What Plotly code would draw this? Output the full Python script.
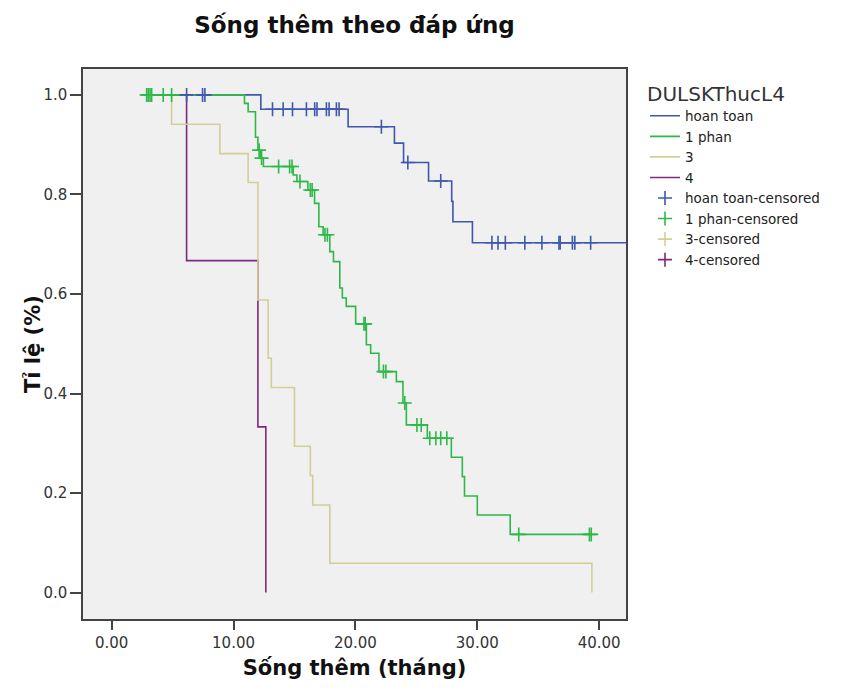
import numpy as np
import plotly.graph_objects as go

# ---- data (Kaplan-Meier step curves) ----
groups = ["hoan toan", "1 phan", "3", "4"]
colors = ["#3E58AC", "#2EB848", "#D3CE97", "#7C287D"]

blue_t = [2.5, 12.24, 19.4, 23.2, 23.95, 26.0, 27.9, 28.0, 29.6, 42.2]
blue_s = [1.0, 0.971, 0.936, 0.903, 0.864, 0.827, 0.786, 0.745, 0.703, 0.703]
blue_cens = [6.15, 7.46, 7.65, 13.2, 14.07, 14.84, 15.98, 16.66, 16.85, 17.62,
             17.84, 18.44, 18.66, 22.13, 24.3, 27.0, 31.2, 31.7, 32.3, 33.9,
             35.3, 36.7, 36.8, 37.8, 38.0, 39.3]

green_t = [2.5, 10.9, 11.2, 11.8, 12.0, 12.2, 12.45, 14.9, 15.2, 16.1, 16.65,
           17.0, 17.35, 17.9, 18.2, 18.72, 18.93, 19.25, 20.02, 20.9, 21.25,
           21.93, 23.36, 23.9, 24.18, 25.9, 27.87, 28.77, 28.95, 30.0, 32.7, 39.4]
green_s = [1.0, 0.983, 0.966, 0.915, 0.889, 0.873, 0.856, 0.839, 0.826, 0.809,
           0.782, 0.735, 0.719, 0.685, 0.665, 0.612, 0.592, 0.575, 0.540, 0.498,
           0.481, 0.444, 0.424, 0.381, 0.337, 0.310, 0.272, 0.233, 0.194, 0.156,
           0.117, 0.117]
green_cens = [2.87, 3.0, 3.15, 3.28, 4.23, 4.92, 12.1, 12.3, 13.7, 14.6, 14.8,
              15.45, 16.3, 16.45, 17.5, 17.7, 20.7, 20.8, 22.3, 22.5, 24.05,
              25.05, 25.4, 26.1, 26.6, 27.0, 27.5, 33.4, 39.2, 39.35]

beige_t = [2.5, 4.92, 8.88, 11.2, 12.0, 12.84, 13.1, 15.0, 16.3, 16.5, 17.9, 39.4]
beige_s = [1.0, 0.941, 0.882, 0.824, 0.588, 0.471, 0.412, 0.294, 0.235, 0.176,
           0.059, 0.0]
beige_cens = []

purple_t = [2.5, 6.15, 12.0, 12.65]
purple_s = [1.0, 0.667, 0.333, 0.0]
purple_cens = []

x_ticks = [0, 10, 20, 30, 40]
y_ticks = [0.0, 0.2, 0.4, 0.6, 0.8, 1.0]


def step_value(t_arr, s_arr, t):
    idx = np.searchsorted(np.array(t_arr), t, side="right") - 1
    return s_arr[max(idx, 0)]


curves = [(blue_t, blue_s, blue_cens), (green_t, green_s, green_cens),
          (beige_t, beige_s, beige_cens), (purple_t, purple_s, purple_cens)]

fig = go.Figure()

# draw order so green is on top (as in the reference)
draw_order = [3, 2, 0, 1]
line_traces = {}
for i in range(4):
    t, s, _ = curves[i]
    line_traces[i] = go.Scatter(
        x=t, y=s, mode="lines", line=dict(color=colors[i], width=1.6, shape="hv"),
        name=groups[i], legendrank=i + 1, hoverinfo="skip")
for i in draw_order:
    fig.add_trace(line_traces[i])

for i in range(4):
    t, s, c = curves[i]
    if c:
        ys = [step_value(t, s, ct) for ct in c]
        xs = c
    else:
        xs, ys = [None], [None]
    fig.add_trace(go.Scatter(
        x=xs, y=ys, mode="markers",
        marker=dict(symbol="cross-thin", size=10, color=colors[i],
                    line=dict(color=colors[i], width=1.6)),
        name=groups[i] + "-censored", legendrank=5 + i, hoverinfo="skip"))

fig.update_layout(
    width=864, height=690,
    margin=dict(l=75, r=246, t=61, b=79),
    paper_bgcolor="white", plot_bgcolor="#F0F0F0",
    font=dict(family="DejaVu Sans", color="#222"),
    title=dict(text="<b>Sống thêm theo đáp ứng</b>", x=0.5, xref="paper",
               y=1 - 17 / 690, yref="container", yanchor="middle", xanchor="center",
               font=dict(size=23, color="#111", family="DejaVu Sans")),
    showlegend=True,
    legend=dict(x=1.035, xanchor="left", y=0.99, yanchor="top",
                bgcolor="rgba(0,0,0,0)", font=dict(size=13.5, color="#222"),
                title=dict(text="DULSKThucL4", font=dict(size=20, color="#333")),
                traceorder="normal", itemwidth=30),
    annotations=[dict(text="<b>Tỉ lệ (%)</b>", xref="paper", yref="paper",
                      x=0, y=0.5, xshift=-50, textangle=-90, showarrow=False,
                      xanchor="center", yanchor="middle",
                      font=dict(size=21, color="#111"))],
)

fig.update_xaxes(
    range=[-2.35, 42.2], tickvals=x_ticks, tickformat=".2f",
    showgrid=False, zeroline=False, showline=True, mirror=True,
    linecolor="#444", linewidth=1.5, ticks="outside", ticklen=9, tickwidth=1.5,
    tickcolor="#444", tickfont=dict(size=15, color="#333"), automargin=False,
    title=dict(text="<b>Sống thêm (tháng)</b>", font=dict(size=21, color="#111"),
               standoff=10))
fig.update_yaxes(
    range=[-0.053, 1.052], tickvals=y_ticks, tickformat=".1f",
    showgrid=False, zeroline=False, showline=True, mirror=True,
    linecolor="#444", linewidth=1.5, ticks="outside", ticklen=11, tickwidth=1.5,
    tickcolor="#444", tickfont=dict(size=15, color="#333"), automargin=False)

fig.write_html("out.html")
